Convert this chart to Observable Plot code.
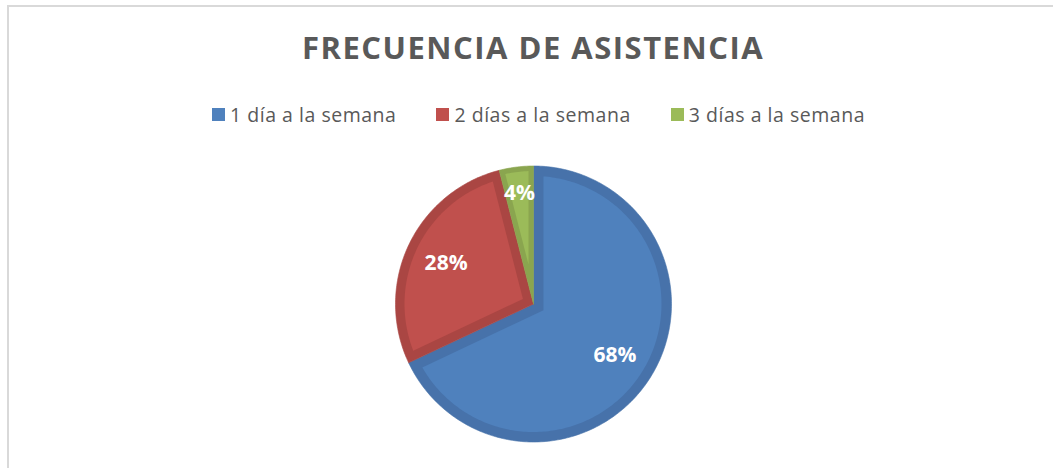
<!DOCTYPE html>
<html>
<head>
<meta charset="utf-8">
<script src="https://cdn.jsdelivr.net/npm/d3@7"></script>
<script src="https://cdn.jsdelivr.net/npm/@observablehq/plot@0.6"></script>
<style>
  html, body { margin: 0; padding: 0; background: #fff; }
  body { position: relative; width: 1053px; height: 468px; overflow: hidden; font-family: "Open Sans", sans-serif; }
  #frame { position: absolute; left: 7px; top: 5px; width: 1052px; height: 480px; border: 2px solid #D9D9D9; box-sizing: border-box; }
  #title { position: absolute; left: 0; width: 1066px; top: 26px; text-align: center; font-weight: 700; font-size: 31px; letter-spacing: 1.5px; color: #595959; white-space: nowrap; }
  #legend { position: absolute; left: 212px; top: 101px; display: flex; align-items: center; color: #595959; font-size: 19.5px; letter-spacing: 0.52px; white-space: nowrap; }
  .item { display: flex; align-items: center; margin-right: 40px; }
  .sw { width: 13px; height: 13px; margin-right: 5px; }
  #chart { position: absolute; left: 0; top: 148px; }
</style>
</head>
<body>
<div id="frame"></div>
<div id="title">FRECUENCIA DE ASISTENCIA</div>
<div id="legend"></div>
<div id="chart"></div>
<script>
// ---- data ----
const categories = ["1 día a la semana", "2 días a la semana", "3 días a la semana"];
const values = [68, 28, 4];
const labels = ["68%", "28%", "4%"];
const fillColors = ["#4F81BD", "#C0504D", "#9BBB59"];
const bandColors = ["#4772AA", "#AA4643", "#8AA54F"];

// ---- legend ----
const legend = document.getElementById("legend");
categories.forEach((c, i) => {
  const it = document.createElement("div");
  it.className = "item";
  const sw = document.createElement("div");
  sw.className = "sw";
  sw.style.background = fillColors[i];
  const tx = document.createElement("span");
  tx.textContent = c;
  it.appendChild(sw); it.appendChild(tx);
  legend.appendChild(it);
});

// ---- pie geometry ----
const W = 1053, H = 320, cx = 533, cy = 155.5, R = 138;
const bandPx = [10, 9, 5];
const total = d3.sum(values);
let acc = 0;
const slices = values.map((v, i) => {
  const a0 = acc / total * 2 * Math.PI; acc += v;
  const a1 = acc / total * 2 * Math.PI;
  return {i, cat: categories[i], a0, a1};
});
function arcPts(r, a0, a1) {
  const n = Math.max(2, Math.ceil((a1 - a0) / (Math.PI / 180)));
  return d3.range(n + 1).map(k => {
    const a = a0 + (a1 - a0) * k / n;
    return [r * Math.sin(a), r * Math.cos(a)];
  });
}
const outer = [], inner = [], labelData = [];
slices.forEach(s => {
  const pts = [[0, 0], ...arcPts(1, s.a0, s.a1), [0, 0]];
  pts.forEach(p => outer.push({cat: s.cat, x: p[0], y: p[1], color: bandColors[s.i]}));
  const d = bandPx[s.i] / R;
  const h = (s.a1 - s.a0) / 2, mid = (s.a0 + s.a1) / 2;
  const apexR = d / Math.sin(h);
  const apex = [apexR * Math.sin(mid), apexR * Math.cos(mid)];
  const off = Math.asin(d / (1 - d));
  const ipts = [apex, ...arcPts(1 - d, s.a0 + off, s.a1 - off), apex];
  ipts.forEach(p => inner.push({cat: s.cat, x: p[0], y: p[1], color: fillColors[s.i]}));
  const lr = values[s.i] / total < 0.1 ? 0.81 : 0.7;
  labelData.push({x: lr * Math.sin(mid), y: lr * Math.cos(mid), label: labels[s.i]});
});

const chart = Plot.plot({
  width: W, height: H, margin: 0,
  style: {background: "transparent", fontFamily: "Open Sans, sans-serif"},
  x: {domain: [-1, 1], range: [cx - R, cx + R], axis: null},
  y: {domain: [-1, 1], range: [cy + R, cy - R], axis: null},
  color: {type: "identity"},
  marks: [
    Plot.line(outer, {x: "x", y: "y", z: "cat", fill: "color", stroke: "color", strokeWidth: 0.6, curve: "linear"}),
    Plot.line(inner, {x: "x", y: "y", z: "cat", fill: "color", stroke: "none", curve: "linear"}),
    Plot.text(labelData, {x: "x", y: "y", text: "label", fill: "white", fontSize: 21, fontWeight: "bold", fontFamily: "Open Sans"})
  ]
});
document.getElementById("chart").appendChild(chart);
</script>
</body>
</html>
